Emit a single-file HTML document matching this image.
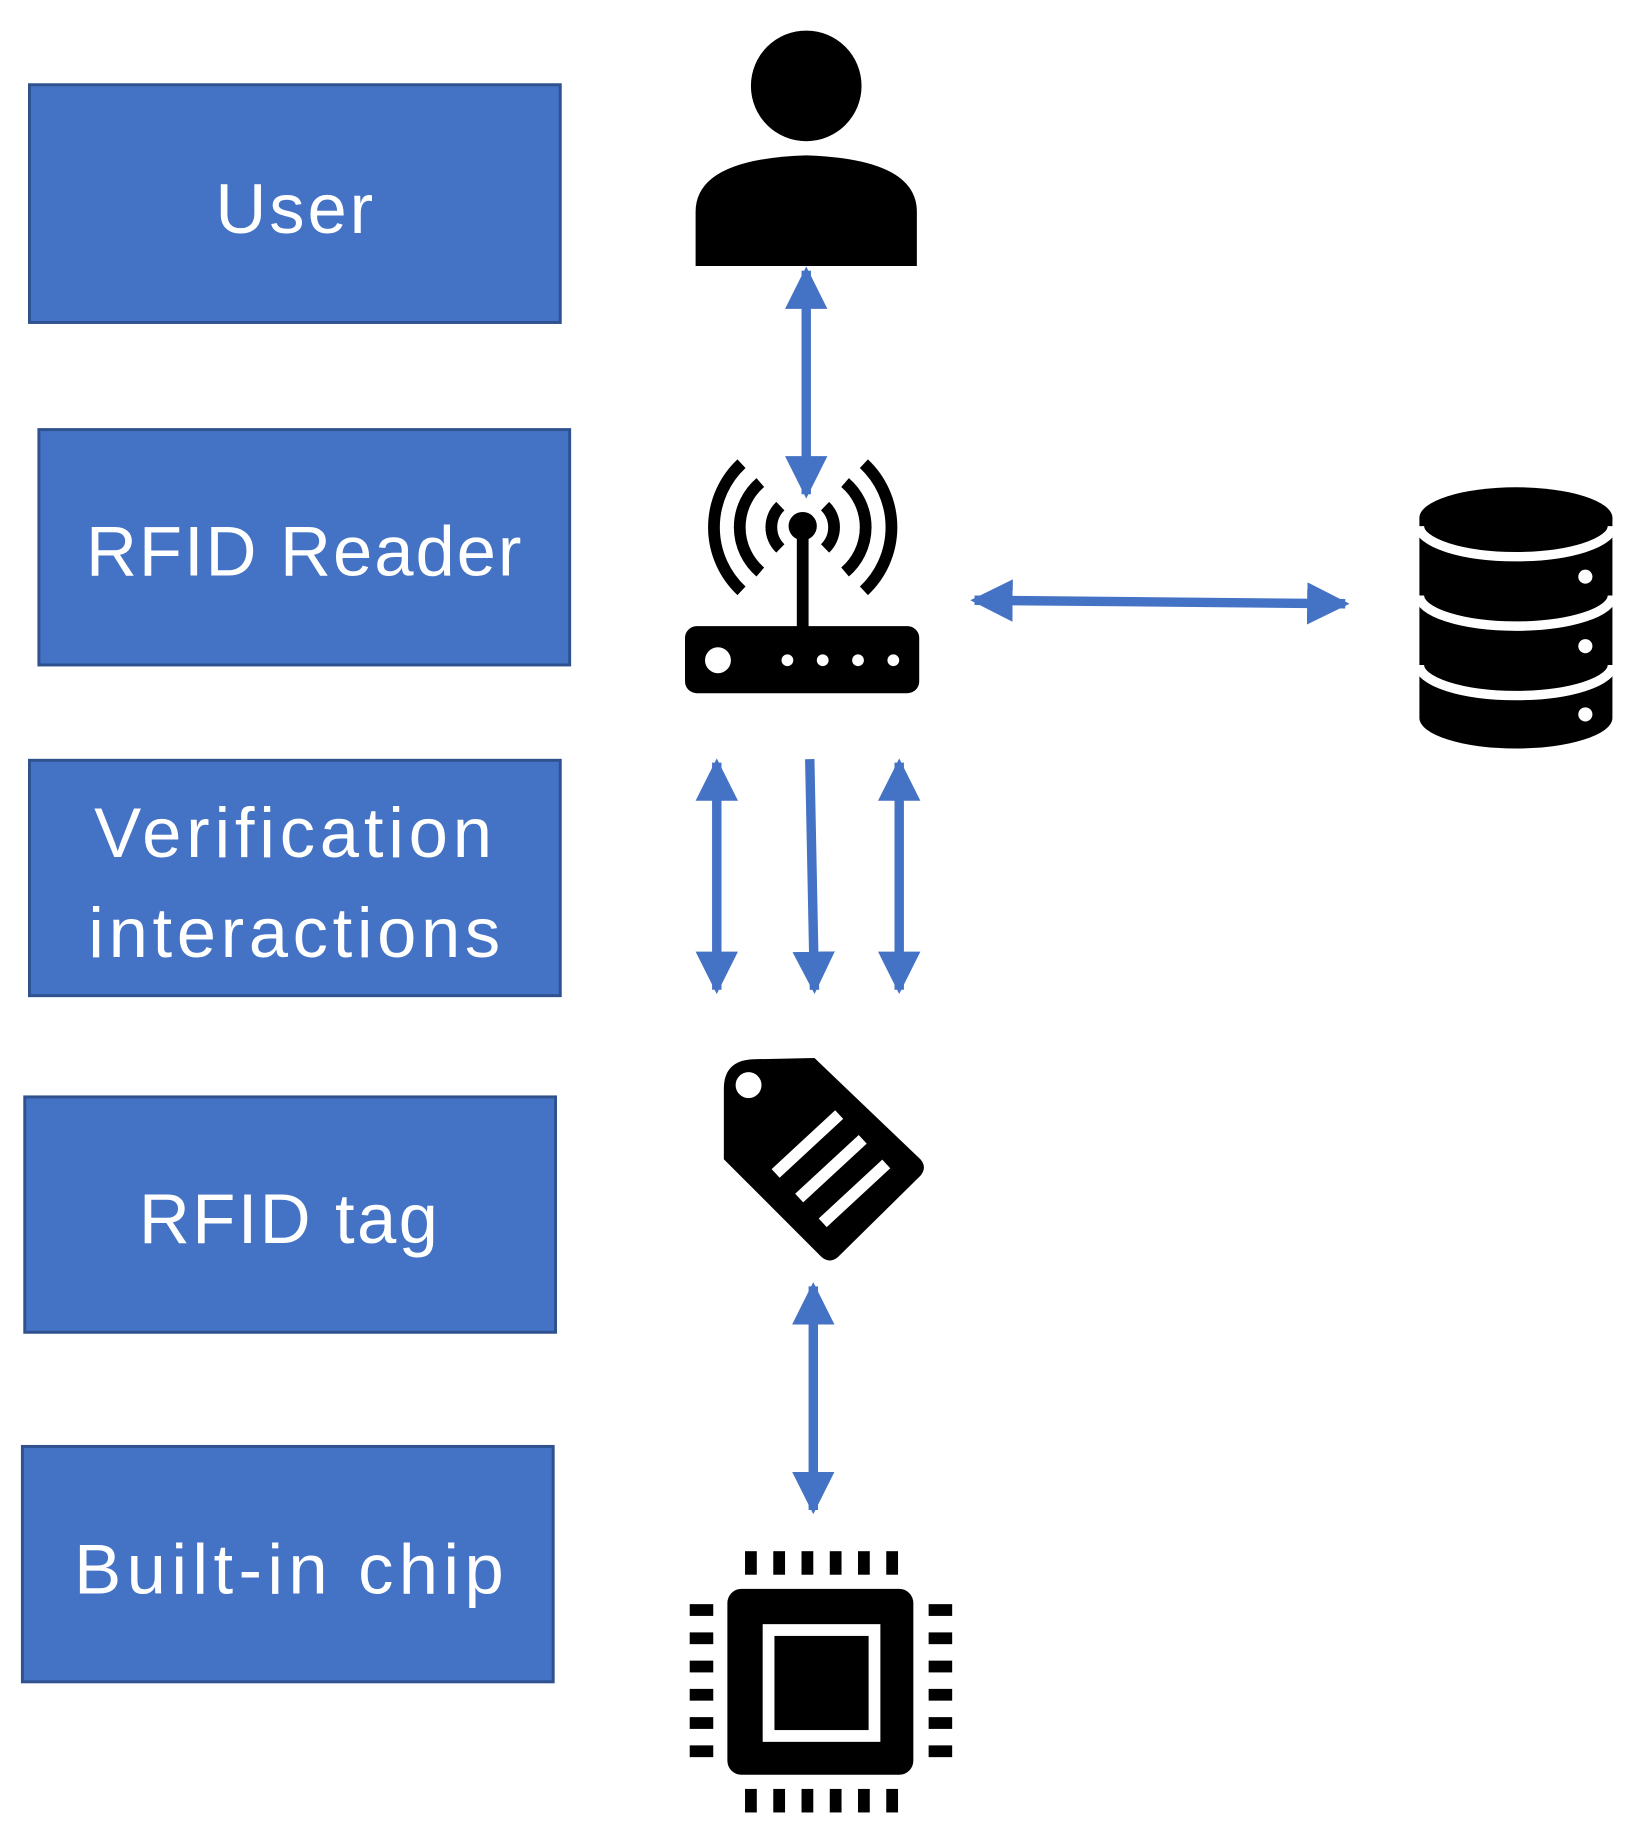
<!DOCTYPE html>
<html><head><meta charset="utf-8"><style>
html,body{margin:0;padding:0;background:#fff;}
svg{display:block;}
text{font-family:"Liberation Sans",sans-serif;fill:#fff;font-size:60px;}
</style></head><body>
<svg width="1636" height="1836" viewBox="0 0 1390 1560" xmlns="http://www.w3.org/2000/svg">
<defs>
<marker id="ah" viewBox="0 0 10 10" refX="9" refY="5" markerWidth="4.5" markerHeight="4.5" orient="auto-start-reverse" markerUnits="strokeWidth">
<path d="M0,0 L10,5 L0,10 z" fill="#4472C4"/></marker>
</defs>
<g fill="#4472C4" stroke="#2F528F" stroke-width="2.5">
<rect x="25" y="72" width="451" height="202"/>
<rect x="33" y="365" width="451" height="200"/>
<rect x="25" y="646" width="451" height="200"/>
<rect x="21" y="932" width="451" height="200"/>
<rect x="19" y="1229" width="451" height="200"/>
</g>
<g>
<text x="183" y="198" textLength="134" lengthAdjust="spacing">User</text>
<text x="73" y="489" textLength="370" lengthAdjust="spacing">RFID Reader</text>
<text x="80" y="728" textLength="338" lengthAdjust="spacing">Verification</text>
<text x="75" y="813" textLength="350" lengthAdjust="spacing">interactions</text>
<text x="118" y="1056" textLength="254" lengthAdjust="spacing">RFID tag</text>
<text x="63" y="1354" textLength="365" lengthAdjust="spacing">Built-in chip</text>
</g>
<!-- person -->
<circle cx="685" cy="73" r="47" fill="#000"/>
<path d="M591,226 L591,180 Q591,135 685,132 Q779,135 779,180 L779,226 Z" fill="#000"/>
<!-- arrows -->
<g stroke="#4472C4" stroke-width="8" fill="none">
<line x1="685" y1="230" x2="685" y2="420" marker-start="url(#ah)" marker-end="url(#ah)"/>
<line x1="828" y1="510" x2="1143" y2="513" marker-start="url(#ah)" marker-end="url(#ah)"/>
<line x1="609" y1="648" x2="609" y2="841" marker-start="url(#ah)" marker-end="url(#ah)"/>
<line x1="688" y1="645" x2="692" y2="841" marker-end="url(#ah)"/>
<line x1="764" y1="648" x2="764" y2="841" marker-start="url(#ah)" marker-end="url(#ah)"/>
<line x1="691" y1="1093" x2="691" y2="1283" marker-start="url(#ah)" marker-end="url(#ah)"/>
</g>
<!-- router -->
<g stroke="#000" stroke-width="10" fill="none">
<path d="M663,430 A25,25 0 0 0 663,466"/>
<path d="M701,430 A25,25 0 0 1 701,466"/>
<path d="M646,410 A50,50 0 0 0 646,486"/>
<path d="M718,410 A50,50 0 0 1 718,486"/>
<path d="M630,394 A74,74 0 0 0 630,502"/>
<path d="M734,394 A74,74 0 0 1 734,502"/>
<line x1="682" y1="447" x2="682" y2="540"/>
</g>
<circle cx="682" cy="447" r="12" fill="#000"/>
<rect x="582" y="532" width="199" height="57" rx="10" fill="#000"/>
<circle cx="610" cy="561" r="11" fill="#fff"/>
<g fill="#fff"><circle cx="669" cy="561" r="5"/><circle cx="699" cy="561" r="5"/><circle cx="729" cy="561" r="5"/><circle cx="759" cy="561" r="5"/></g>
<!-- database -->
<path d="M1206,440 L1206,610 A82,26 0 0 0 1370,610 L1370,440 Z" fill="#000"/>
<ellipse cx="1288" cy="440" rx="82" ry="26" fill="#000"/>
<g stroke="#fff" stroke-width="8" fill="none">
<path d="M1206,447 A82,26 0 0 0 1370,447"/>
<path d="M1206,506 A82,26 0 0 0 1370,506"/>
<path d="M1206,565 A82,26 0 0 0 1370,565"/>
</g>
<g fill="#fff"><circle cx="1347" cy="490" r="6"/><circle cx="1347" cy="549" r="6"/><circle cx="1347" cy="607" r="6"/></g>
<!-- tag -->
<path d="M615,925 Q615,901 640,900 L692,899 L782,985 Q788,992 782,999 L712,1068 Q705,1074 698,1068 L615,985 Z" fill="#000"/>
<circle cx="636" cy="922" r="11" fill="#fff"/>
<g stroke="#fff" stroke-width="10">
<line x1="659" y1="997" x2="713" y2="947"/>
<line x1="679" y1="1018" x2="733" y2="968"/>
<line x1="699" y1="1039" x2="753" y2="989"/>
</g>
<!-- chip -->
<rect x="618" y="1350" width="158" height="158" rx="12" fill="#000"/>
<rect x="653" y="1385" width="90" height="90" fill="none" stroke="#fff" stroke-width="10"/>
<g fill="#000">
<rect x="633" y="1318" width="10" height="20"/><rect x="657" y="1318" width="10" height="20"/><rect x="681" y="1318" width="10" height="20"/><rect x="705" y="1318" width="10" height="20"/><rect x="729" y="1318" width="10" height="20"/><rect x="753" y="1318" width="10" height="20"/>
<rect x="633" y="1520" width="10" height="20"/><rect x="657" y="1520" width="10" height="20"/><rect x="681" y="1520" width="10" height="20"/><rect x="705" y="1520" width="10" height="20"/><rect x="729" y="1520" width="10" height="20"/><rect x="753" y="1520" width="10" height="20"/>
<rect x="586" y="1363" width="20" height="10"/><rect x="586" y="1387" width="20" height="10"/><rect x="586" y="1411" width="20" height="10"/><rect x="586" y="1435" width="20" height="10"/><rect x="586" y="1459" width="20" height="10"/><rect x="586" y="1483" width="20" height="10"/>
<rect x="789" y="1363" width="20" height="10"/><rect x="789" y="1387" width="20" height="10"/><rect x="789" y="1411" width="20" height="10"/><rect x="789" y="1435" width="20" height="10"/><rect x="789" y="1459" width="20" height="10"/><rect x="789" y="1483" width="20" height="10"/>
</g>
</svg>
</body></html>
